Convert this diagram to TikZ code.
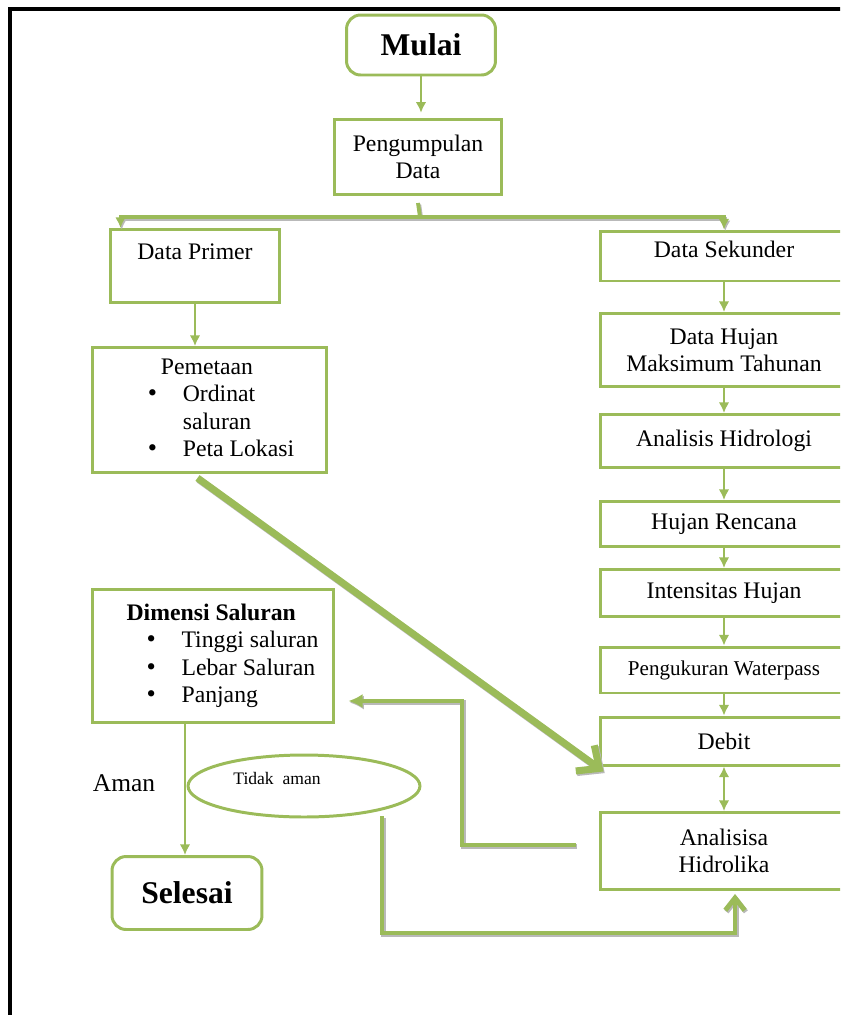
\documentclass[tikz,border=0pt]{standalone}
\usepackage{fontspec}
\setmainfont{Liberation Serif}
\usetikzlibrary{arrows.meta,calc,shapes.geometric}
\definecolor{flowGreen}{HTML}{9BBB59}
\newcommand{\blt}{{\fontsize{15}{15.5}\selectfont\textbullet}}

\begin{document}
\begin{tikzpicture}[
    x=0.02cm, y=-0.02cm,
    every node/.style={font=\fontsize{13.5}{15.5}\selectfont, align=center},
    box/.style={draw=flowGreen, line width=1.7pt, fill=white, inner sep=2pt},
    endbox/.style={box, rounded corners=8pt, font=\fontsize{18}{20}\selectfont\bfseries},
    rbox/.style={box, minimum width=4.96cm},
    link/.style={draw=flowGreen, line width=1.7pt, -{Latex[length=6pt,width=6pt]}},
    heavy/.style={draw=flowGreen, line width=#1,
                  preaction={draw=gray!55, line width=#1,
                             transform canvas={shift={(0.7pt,-0.9pt)}}}},
    heavy/.default=2.6pt
  ]
  \useasboundingbox (0,0) rectangle (840,1015);
  \clip (0,0) rectangle (840,1015);

  % Frame
  \draw[line width=2.4pt] (10,1020) -- (10,9) -- (850,9);

  % Start
  \node[endbox, minimum width=2.98cm, minimum height=1.2cm] (mulai) at (421,45) {Mulai};
  \node[box, minimum width=3.34cm, minimum height=1.5cm] (kumpul) at (418,157)
    {Pengumpulan\\Data};

  % Left column
  \node[box, minimum width=3.4cm, minimum height=1.46cm, inner ysep=0pt,
        text height=0.59cm, text depth=0.87cm] (primer) at (195,266) {Data Primer};
  \node[box, minimum width=4.7cm, minimum height=2.5cm] (pemetaan) at (209.5,410)
    {\hspace*{0.46cm}\begin{tabular}{@{}p{0.7cm}@{}l@{}}
       \multicolumn{2}{@{}l@{}}{\hspace{0.26cm}Pemetaan}\\
       \blt & Ordinat\\
            & saluran\\
       \blt & Peta Lokasi
     \end{tabular}};
  \node[box, minimum width=4.84cm, minimum height=2.66cm] (dimensi) at (213,656)
    {\hspace*{0.38cm}\begin{tabular}{@{\hspace{0.4cm}}p{0.7cm}@{}l@{}}
       \multicolumn{2}{@{}l@{}}{\textbf{Dimensi Saluran}}\\
       \blt & Tinggi saluran\\
       \blt & Lebar Saluran\\
       \blt & Panjang
     \end{tabular}};
  \node[endbox, minimum width=3.0cm, minimum height=1.46cm] (selesai) at (187,893) {Selesai};

  % Aman / Tidak aman
  \node[font=\fontsize{14.5}{16}\selectfont] (aman) at (124,783) {Aman};
  \node[draw=flowGreen, line width=1.7pt, ellipse, minimum width=4.64cm,
        minimum height=1.24cm] (tidak) at (304,786) {};
  \node[font=\fontsize{10}{12}\selectfont] (tidaktxt) at (277,778) {Tidak\ \ aman};

  % Right column
  \node[rbox, minimum height=1.0cm, inner ysep=0pt, text height=0.52cm,
        text depth=0.48cm] (sekunder) at (724,256) {Data Sekunder};
  \node[rbox, minimum height=1.46cm] (hujan) at (724,350) {Data Hujan\\Maksimum Tahunan};
  \node[rbox, minimum height=1.06cm] (hidro) at (724,441) {Analisis Hidrologi};
  \node[rbox, minimum height=0.9cm] (rencana) at (724,524) {Hujan Rencana};
  \node[rbox, minimum height=0.94cm] (intensitas) at (724,593) {Intensitas Hujan};
  \node[rbox, minimum height=0.92cm, font=\fontsize{12}{14}\selectfont] (waterpass)
    at (724,670) {Pengukuran Waterpass};
  \node[rbox, minimum height=0.96cm] (debit) at (724,741) {Debit};
  \node[rbox, minimum height=1.54cm] (hidrolika) at (724,851) {Analisisa\\Hidrolika};

  % Connectors
  \draw[link, shorten >=3pt] (mulai.south) -- (mulai.south |- kumpul.north);

  \coordinate (split) at (420,217);
  \draw[heavy=2.2pt] ($(kumpul.south)+(0,7)$) -- (split);
  \draw[heavy=2.2pt, -{Latex[length=6pt,width=6pt]}] (split) -| ($(primer.north west)+(12,0)$);
  \draw[heavy=2.2pt, -{Latex[length=6pt,width=6pt]}] (split) -| (sekunder.north);

  \draw[link] (primer.south) -- (primer.south |- pemetaan.north);

  \draw[link] (sekunder) -- (hujan);
  \draw[link] (hujan) -- (hidro);
  \draw[link] (hidro) -- (rencana);
  \draw[link] (rencana) -- (intensitas);
  \draw[link] (intensitas) -- (waterpass);
  \draw[link] (waterpass) -- (debit);
  \draw[link, {Latex[length=6pt,width=6pt]}-{Latex[length=6pt,width=6pt]}] (debit) -- (hidrolika);

  \draw[heavy=4pt, -{Straight Barb[length=10pt,width=18pt]}]
    ($(pemetaan.south)+(-12,4)$) -- ($(debit.south west)+(5,5)$);

  \draw[heavy=2.8pt, -{Latex[length=8pt,width=8pt]}]
    ($(hidrolika.west)+(-23,-6)$) -- (462,845) |- ($(dimensi.south east)+(13,-23)$);

  \draw[link] ($(dimensi.south)+(-28,0)$) -- ($(selesai.north)+(-2,0)$);

  \draw[heavy=2.8pt, -{Straight Barb[length=7pt,width=11pt]}]
    ($(tidak.south)+(78,-2)$) |- ($(hidrolika.south)+(11,42)$) -- ($(hidrolika.south)+(11,3)$);
\end{tikzpicture}
\end{document}
